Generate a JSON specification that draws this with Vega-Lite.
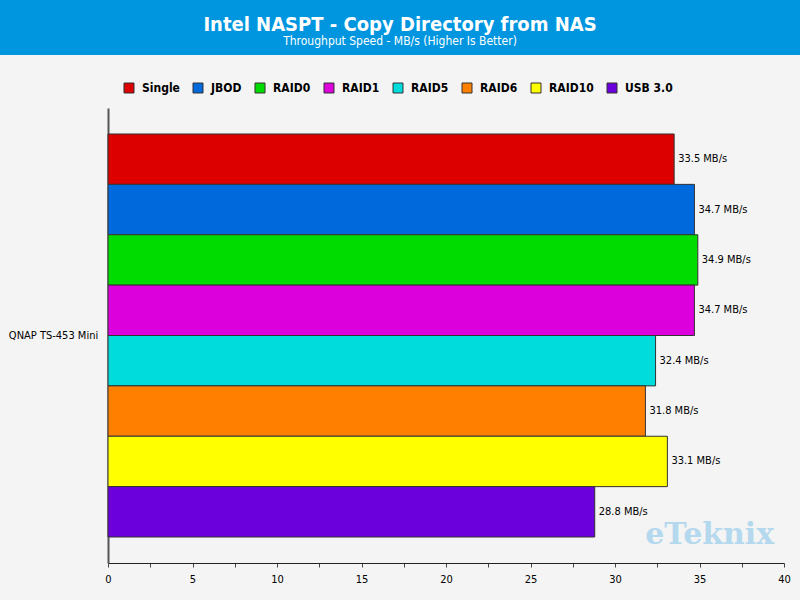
{
  "$schema": "https://vega.github.io/schema/vega-lite/v6.json",
  "padding": {"left": 0, "top": 0, "right": 0, "bottom": 18},
  "background": "#f4f4f4",
  "spacing": 53,
  "config": {
    "view": {"stroke": null},
    "font": "DejaVu Sans Condensed",
    "axis": {"labelFont": "DejaVu Sans Condensed", "labelFontSize": 11, "labelColor": "#000", "domainColor": "#555", "tickColor": "#444", "grid": false, "title": null}
  },
  "vconcat": [
    {
      "width": 800,
      "height": 55,
      "view": {"fill": "#0096df", "stroke": null},
      "data": {"values": [{"title": "Intel NASPT - Copy Directory from NAS", "subtitle": "Throughput Speed - MB/s (Higher Is Better)"}]},
      "layer": [
        {"mark": {"type": "text", "color": "white", "fontSize": 20, "fontWeight": "bold", "dy": -3, "font": "DejaVu Sans Condensed"}, "encoding": {"text": {"field": "title"}}},
        {"mark": {"type": "text", "color": "white", "fontSize": 12, "dy": 13.5, "font": "DejaVu Sans Condensed"}, "encoding": {"text": {"field": "subtitle"}}}
      ]
    },
    {
      "spacing": 0,
      "hconcat": [
        {
          "width": 104,
          "height": 455,
          "data": {"values": [{"device": "QNAP TS-453 Mini"}]},
          "mark": {"type": "text", "fontSize": 11, "color": "#000", "font": "DejaVu Sans Condensed", "dx": 1.5},
          "encoding": {"text": {"field": "device"}}
        },
        {
          "width": 676,
          "height": 455,
          "encoding": {
            "y": {"field": "device", "type": "nominal", "scale": {"paddingInner": 0, "paddingOuter": 0.0645}, "axis": {"labels": false, "ticks": false, "domain": true, "domainWidth": 2}},
            "yOffset": {"field": "config", "type": "nominal", "sort": ["Single", "JBOD", "RAID0", "RAID1", "RAID5", "RAID6", "RAID10", "USB 3.0"], "scale": {"paddingInner": 0, "paddingOuter": 0}}
          },
          "layer": [
            {
              "data": {"values": [
                {"device": "QNAP TS-453 Mini", "config": "Single", "value": 33.5},
                {"device": "QNAP TS-453 Mini", "config": "JBOD", "value": 34.7},
                {"device": "QNAP TS-453 Mini", "config": "RAID0", "value": 34.9},
                {"device": "QNAP TS-453 Mini", "config": "RAID1", "value": 34.7},
                {"device": "QNAP TS-453 Mini", "config": "RAID5", "value": 32.4},
                {"device": "QNAP TS-453 Mini", "config": "RAID6", "value": 31.8},
                {"device": "QNAP TS-453 Mini", "config": "RAID10", "value": 33.1},
                {"device": "QNAP TS-453 Mini", "config": "USB 3.0", "value": 28.8}
              ]},
              "transform": [{"calculate": "format(datum.value, '.1f') + ' MB/s'", "as": "label"}],
              "encoding": {
                "x": {"field": "value", "type": "quantitative", "scale": {"domain": [0, 40], "nice": false}, "axis": {"values": [0, 2.5, 5, 7.5, 10, 12.5, 15, 17.5, 20, 22.5, 25, 27.5, 30, 32.5, 35, 37.5, 40], "labelExpr": "datum.value % 5 === 0 ? datum.label : ''", "labelFlush": false, "tickSize": 4, "labelPadding": 6, "domainColor": "#222"}}
              },
              "layer": [
                {
                  "mark": {"type": "bar", "stroke": "#333", "strokeWidth": 1},
                  "encoding": {
                    "color": {
                      "field": "config", "type": "nominal",
                      "scale": {"domain": ["Single", "JBOD", "RAID0", "RAID1", "RAID5", "RAID6", "RAID10", "USB 3.0"], "range": ["#dd0000", "#006adc", "#00dc00", "#dc00dc", "#00dcdc", "#ff8000", "#ffff00", "#6c00dc"]},
                      "legend": {"orient": "none", "legendX": 123, "legendY": 82, "direction": "horizontal", "columns": 8, "title": null, "symbolType": "square", "symbolSize": 100, "symbolStrokeColor": "#333", "symbolStrokeWidth": 1, "labelFontWeight": "bold", "labelFontSize": 12, "labelFont": "DejaVu Sans Condensed", "labelColor": "#000", "columnPadding": 11, "labelOffset": 7}
                    }
                  }
                },
                {
                  "mark": {"type": "text", "align": "left", "dx": 4, "fontSize": 11, "color": "#000", "font": "DejaVu Sans Condensed"},
                  "encoding": {"text": {"field": "label"}}
                }
              ]
            },
            {
              "data": {"values": [{"device": "QNAP TS-453 Mini", "config": "USB 3.0", "wm": "eTeknix", "pos": 35.6}]},
              "mark": {"type": "text", "fontSize": 30, "fontWeight": "bold", "font": "DejaVu Serif", "color": "#b4d8ee", "baseline": "middle", "dy": 23},
              "encoding": {
                "x": {"field": "pos", "type": "quantitative"},
                "text": {"field": "wm"}
              }
            }
          ]
        }
      ]
    }
  ]
}
